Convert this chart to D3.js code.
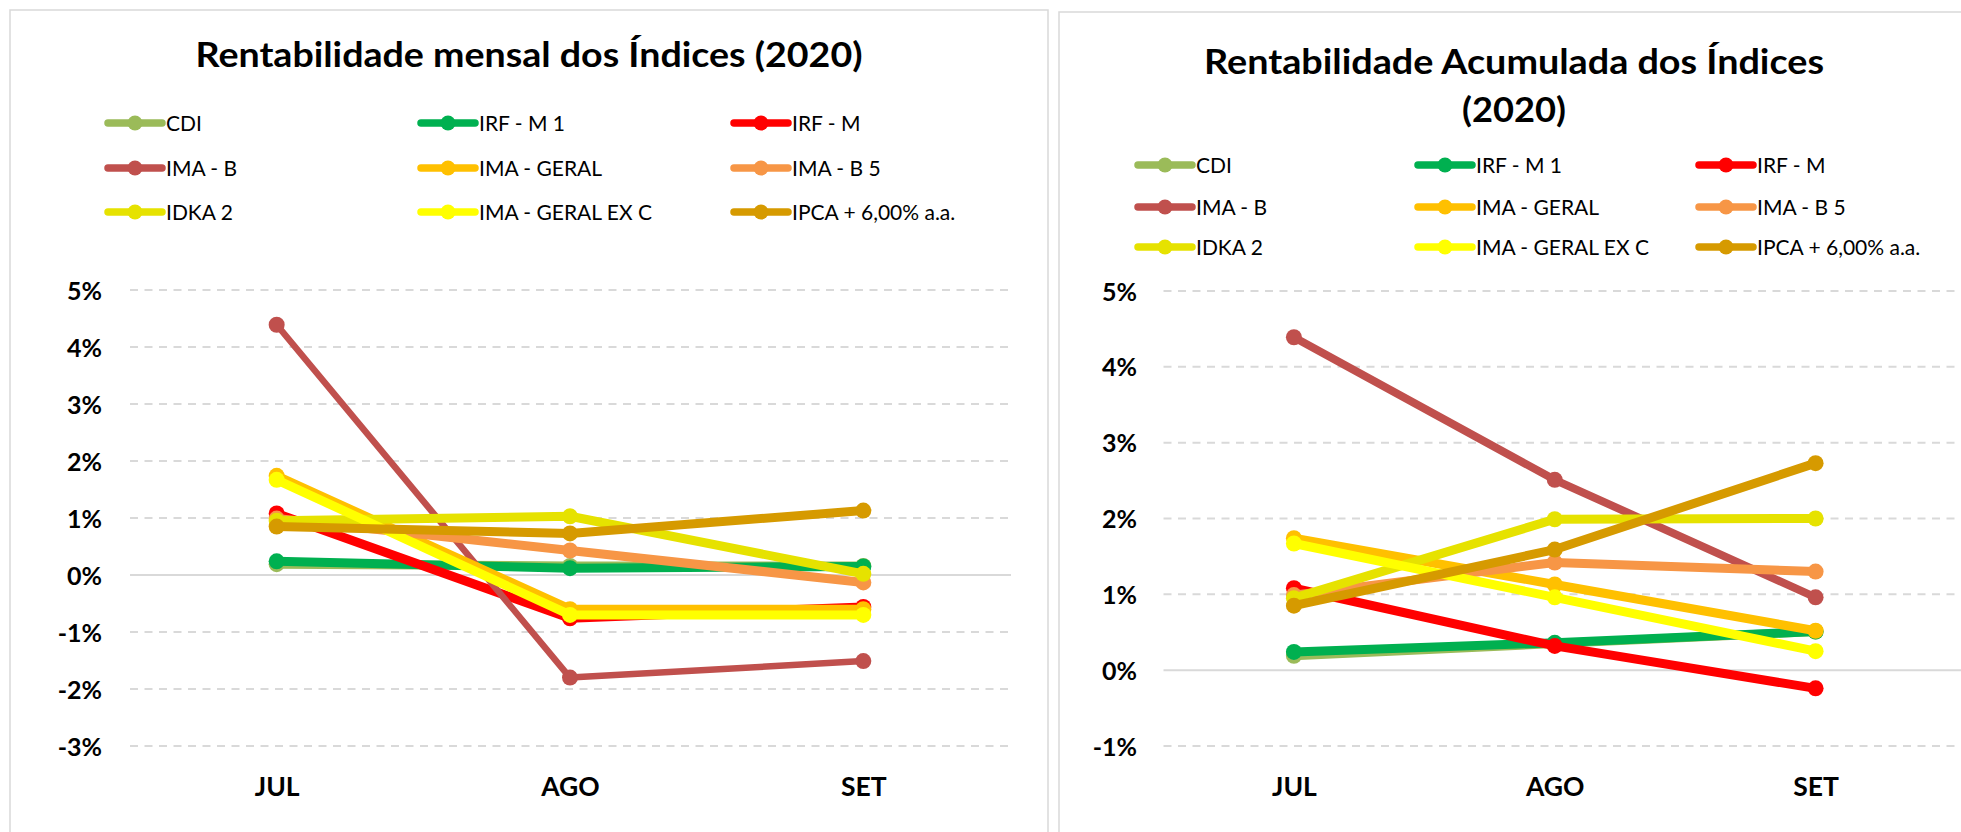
<!DOCTYPE html>
<html>
<head>
<meta charset="utf-8">
<script src="https://cdn.jsdelivr.net/npm/d3@7"></script>
<style>
  body { margin: 0; background: #fff; }
  svg { display: block; font-family: Lato, "Open Sans", sans-serif; }
</style>
</head>
<body>
<svg id="vs-chart" width="1961" height="832"></svg>
<script>
// months on the x axis
var months = ["JUL", "AGO", "SET"];

// series, in the order Excel draws them
var seriesNames = ["CDI", "IRF - M 1", "IRF - M", "IMA - B", "IMA - GERAL", "IMA - B 5", "IDKA 2", "IMA - GERAL EX C", "IPCA + 6,00% a.a."];
var seriesColors = ["#9BBB59", "#00B050", "#FF0000", "#C0504D", "#FFC000", "#F79646", "#E6E200", "#FFFF00", "#D69A00"];

// monthly return (%), one row per series
var mensalValues = [
  [0.19, 0.16, 0.16],
  [0.24, 0.12, 0.15],
  [1.08, -0.76, -0.56],
  [4.39, -1.80, -1.51],
  [1.74, -0.60, -0.60],
  [0.99, 0.43, -0.13],
  [0.95, 1.03, 0.02],
  [1.67, -0.70, -0.70],
  [0.85, 0.73, 1.13]
];

// accumulated return (%), one row per series
var acumuladaValues = [
  [0.19, 0.35, 0.51],
  [0.24, 0.36, 0.51],
  [1.08, 0.32, -0.24],
  [4.39, 2.51, 0.96],
  [1.74, 1.13, 0.52],
  [0.99, 1.42, 1.30],
  [0.95, 1.99, 2.00],
  [1.67, 0.96, 0.25],
  [0.85, 1.59, 2.73]
];

var mensalTicks = [5, 4, 3, 2, 1, 0, -1, -2, -3];
var acumuladaTicks = [5, 4, 3, 2, 1, 0, -1];

var svg = d3.select("#vs-chart");

// panel frames
svg.append("rect").attr("x", 10).attr("y", 10).attr("width", 1038).attr("height", 840)
  .attr("fill", "#fff").attr("stroke", "#d9d9d9").attr("stroke-width", 1.5);
svg.append("rect").attr("x", 1059).attr("y", 12).attr("width", 920).attr("height", 840)
  .attr("fill", "#fff").attr("stroke", "#d9d9d9").attr("stroke-width", 1.5);

function drawChart(opt){
  var g = svg.append("g");

  // title (Calibri is narrower than Lato, so fit each line to the width seen in the picture)
  opt.title.forEach(function(t, i){
    g.append("text")
      .attr("x", opt.titleX).attr("y", opt.titleY + i * 48)
      .attr("text-anchor", "middle")
      .attr("font-weight", "bold")
      .attr("font-size", 35)
      .attr("fill", "#000")
      .attr("textLength", opt.titleWidths[i])
      .attr("lengthAdjust", "spacingAndGlyphs")
      .text(t);
  });

  // legend, 3 columns
  var leg = g.selectAll(".vs-legend").data(seriesNames).enter().append("g")
      .attr("class", "vs-legend")
      .attr("transform", function(d, i){
        return "translate(" + opt.legendCols[i % 3] + "," + opt.legendRows[Math.floor(i / 3)] + ")";
      });
  leg.append("line")
      .attr("x1", -58).attr("x2", -4).attr("y1", 0).attr("y2", 0)
      .attr("stroke", function(d, i){ return seriesColors[i]; })
      .attr("stroke-width", 7.5).attr("stroke-linecap", "round");
  leg.append("circle").attr("cx", -31).attr("cy", 0).attr("r", 7.5)
      .attr("fill", function(d, i){ return seriesColors[i]; });
  leg.append("text").attr("x", 0).attr("y", 7.5).attr("font-size", 21).attr("fill", "#000")
      .text(function(d){ return d; });

  var x = d3.scalePoint().domain(months).range(opt.xRange).padding(0.5);
  var y = d3.scaleLinear().domain(opt.yDomain).range(opt.yRange);

  // grid
  g.selectAll(".vs-grid").data(opt.ticks.filter(function(t){ return t !== 0; })).enter().append("line")
      .attr("x1", opt.xRange[0]).attr("x2", opt.gridEnd)
      .attr("y1", function(d){ return y(d); }).attr("y2", function(d){ return y(d); })
      .attr("stroke", "#d9d9d9").attr("stroke-width", 2).attr("stroke-dasharray", "8,6.5");
  g.append("line")
      .attr("x1", opt.xRange[0]).attr("x2", opt.zeroEnd)
      .attr("y1", y(0)).attr("y2", y(0))
      .attr("stroke", "#d9d9d9").attr("stroke-width", 2);

  // y axis labels
  var yAxis = d3.axisLeft(y).tickValues(opt.ticks).tickSize(0).tickPadding(0)
      .tickFormat(function(d){ return d + "%"; });
  g.append("g").attr("transform", "translate(" + opt.yLabelX + ",0)").call(yAxis)
    .call(function(a){
      a.select(".domain").remove();
      a.selectAll("text").attr("font-size", 25).attr("font-weight", "bold")
        .attr("font-family", "Lato, sans-serif").attr("fill", "#000").attr("dy", "0.36em");
    });

  // x axis labels
  var xAxis = d3.axisBottom(x).tickSize(0).tickPadding(0);
  g.append("g").attr("transform", "translate(0," + opt.xLabelY + ")").call(xAxis)
    .call(function(a){
      a.select(".domain").remove();
      a.selectAll("text").attr("font-size", 26.5).attr("font-weight", "bold")
        .attr("font-family", "Lato, sans-serif").attr("fill", "#000").attr("dy", 0).attr("y", 0);
    });

  // series
  var line = d3.line().x(function(d, i){ return x(months[i]); }).y(function(d){ return y(d); });
  opt.values.forEach(function(vals, s){
    var sg = g.append("g");
    sg.append("path").datum(vals).attr("d", line)
      .attr("fill", "none").attr("stroke", seriesColors[s])
      .attr("stroke-width", opt.widths[s]).attr("stroke-linejoin", "round").attr("stroke-linecap", "round");
    sg.selectAll("circle").data(vals).enter().append("circle")
      .attr("cx", function(d, i){ return x(months[i]); })
      .attr("cy", function(d){ return y(d); })
      .attr("r", 8).attr("fill", seriesColors[s]);
  });
}

drawChart({
  title: ["Rentabilidade mensal dos Índices (2020)"],
  titleWidths: [667],
  titleX: 529, titleY: 67,
  legendCols: [166, 479, 792], legendRows: [123, 168, 212],
  xRange: [130, 1010], gridEnd: 1008, zeroEnd: 1011,
  yDomain: [-3, 5], yRange: [746, 290], ticks: mensalTicks,
  yLabelX: 102, xLabelY: 796,
  values: mensalValues,
  widths: [9, 9, 9, 6.5, 9, 9, 9, 9, 9]
});

drawChart({
  title: ["Rentabilidade Acumulada dos Índices", "(2020)"],
  titleWidths: [620, 104],
  titleX: 1514, titleY: 74,
  legendCols: [1196, 1476, 1757], legendRows: [165, 207, 247],
  xRange: [1163.5, 1946], gridEnd: 1961, zeroEnd: 1961,
  yDomain: [-1, 5], yRange: [746, 291], ticks: acumuladaTicks,
  yLabelX: 1137, xLabelY: 796,
  values: acumuladaValues,
  widths: [9, 9, 9, 8, 9, 9, 9, 9, 9]
});
</script>
</body>
</html>
